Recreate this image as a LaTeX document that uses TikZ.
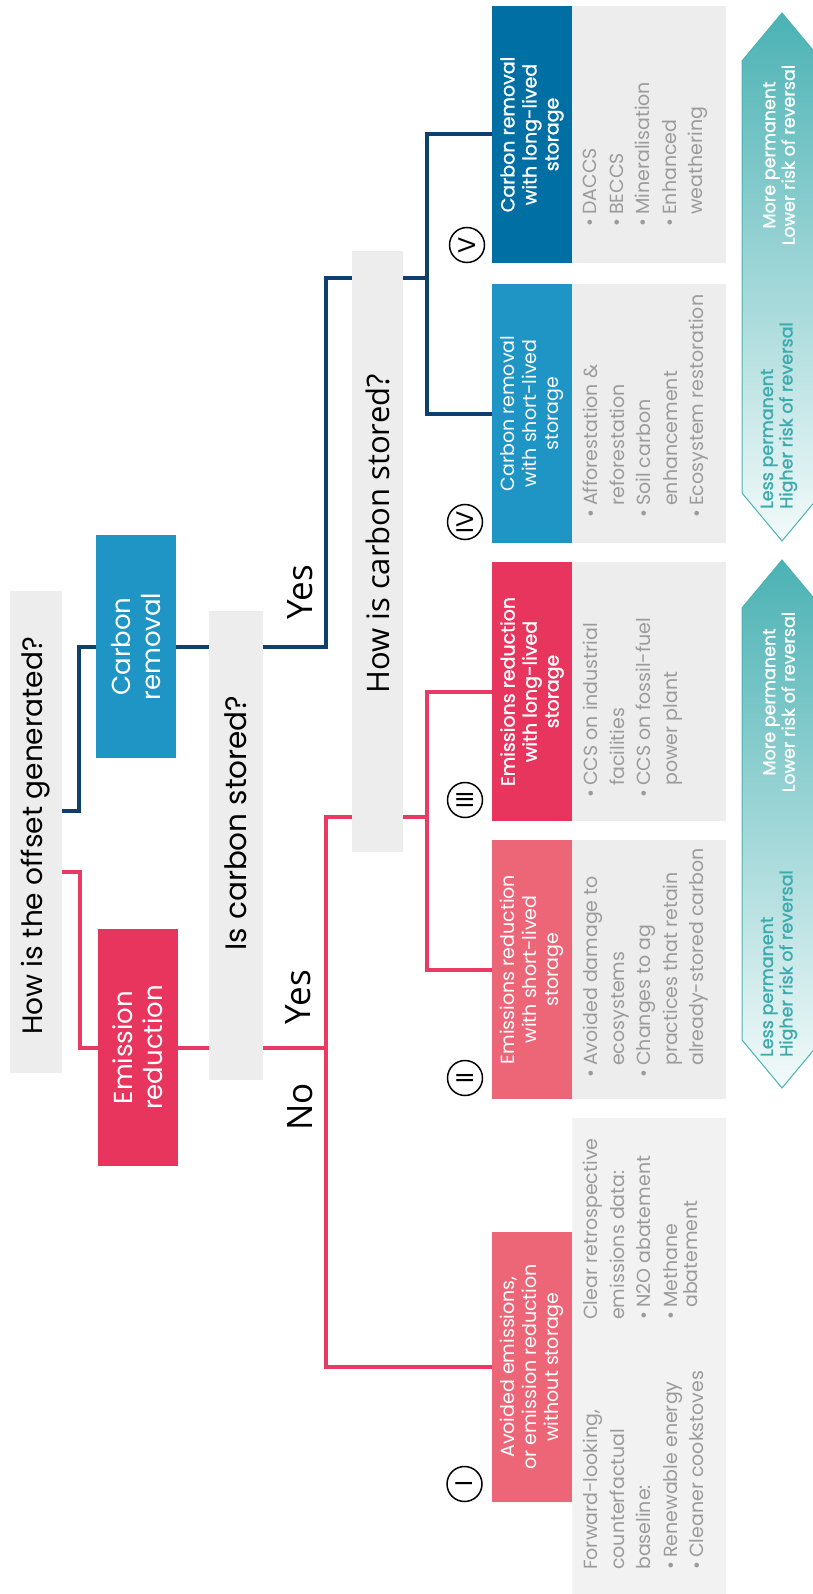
\documentclass[tikz,border=0pt]{standalone}
\usepackage{fontspec}
\setmainfont{Poppins}
\newfontfamily\osans{Open Sans}
\newfontfamily\popmed[FakeBold=1.3]{Poppins}
\usetikzlibrary{calc}
\pgfdeclarelayer{bg}
\pgfsetlayers{bg,main}
\definecolor{navyl}{HTML}{0E406E}
\definecolor{pinkl}{HTML}{E83A62}
\definecolor{crblue}{HTML}{1E95C5}
\definecolor{erpink}{HTML}{E8355E}
\definecolor{lpink}{HTML}{EC6678}
\definecolor{dblue}{HTML}{006FA3}
\definecolor{qgray}{HTML}{EDEDED}
\definecolor{lgray}{HTML}{F2F2F2}
\definecolor{gtxt}{HTML}{9B9B9B}
\definecolor{tealA}{HTML}{4BB2B4}
\definecolor{teallt}{HTML}{F3FAFA}
\definecolor{tealtxt}{HTML}{3DAAAD}
\newcommand{\bul}{\makebox[12pt][l]{•}}
\newcommand{\ind}{\hspace*{12pt}}
\begin{document}
\begin{tikzpicture}[x=1pt,y=-1pt,
  box/.style={rectangle, inner sep=0pt, outer sep=0pt},
  lbl/.style={rotate=90, inner sep=0pt, align=center},
  qtext/.style={lbl, text=black, font=\fontsize{28}{32}\selectfont},
  bigtext/.style={lbl, text=white, font=\fontsize{26}{30}\selectfont},
  boxtext/.style={lbl, text=white, font=\fontsize{19}{22}\selectfont},
  boldtext/.style={lbl, text=white, font=\popmed\fontsize{19}{22}\selectfont},
  yesno/.style={lbl, text=black, font=\osans\fontsize{35}{40}\selectfont},
  gtext/.style={rotate=90, anchor=north west, inner sep=0pt, align=left, text=gtxt, font=\fontsize{19}{26.5}\selectfont},
  num/.style={circle, draw=black, line width=1.5pt, minimum size=35pt, inner sep=0pt, rotate=90, font=\fontsize{24}{26}\selectfont},
  arrowtxt/.style={rotate=90, inner sep=0pt, font=\popmed\fontsize{17.5}{19.5}\selectfont},
  navylink/.style={draw=navyl, line width=4pt},
  pinklink/.style={draw=pinkl, line width=4pt}
]
\useasboundingbox (0,0) rectangle (812,1594);

% question boxes
\node[box, fill=qgray, minimum width=52pt, minimum height=482pt] (q1) at (36,832) {};
\node[qtext] (q1t) at (36,836) {How is the offset generated?};
\node[box, fill=qgray, minimum width=54pt, minimum height=469pt] (q2) at (236,845.5) {};
\node[qtext, font=\fontsize{29.5}{32}\selectfont] (q2t) at (236,823) {Is carbon stored?};
\node[box, fill=qgray, minimum width=51pt, minimum height=601pt] (q3) at (377.5,551.5) {};
\node[lbl, text=black, font=\osans\fontsize{31}{34}\selectfont] (q3t) at (377.5,534) {How is carbon stored?};

% first-level boxes
\node[box, fill=crblue, minimum width=80pt, minimum height=223pt] (cr) at (136,646.5) {};
\node[bigtext] (crt) at (136,646.5) {Carbon\\removal};
\node[box, fill=erpink, minimum width=80pt, minimum height=237pt] (er) at (138,1047.5) {};
\node[bigtext] (ert) at (138,1047.5) {Emission\\reduction};

% yes / no
\node[yesno] (yes1) at (300,592) {Yes};
\node[yesno] (yes2) at (298,997) {Yes};
\node[yesno] (no1) at (300,1107) {No};

% category boxes
\node[box, fill=lpink, minimum width=80pt, minimum height=270pt] (I) at (532,1367) {};
\node[boxtext] (It) at (532,1367) {Avoided emissions,\\or emission reduction\\without storage};
\node[box, fill=lpink, minimum width=80pt, minimum height=259pt] (II) at (532,969.5) {};
\node[boxtext] (IIt) at (532,969.5) {Emissions reduction\\with short-lived\\storage};
\node[box, fill=erpink, minimum width=80pt, minimum height=259pt] (III) at (532,691.5) {};
\node[boldtext] (IIIt) at (532,691.5) {Emissions reduction\\with long-lived\\storage};
\node[box, fill=crblue, minimum width=80pt, minimum height=259pt] (IV) at (532,413.5) {};
\node[boxtext] (IVt) at (532,413.5) {Carbon removal\\with short-lived\\storage};
\node[box, fill=dblue, minimum width=80pt, minimum height=257pt] (V) at (532,134.5) {};
\node[boldtext] (Vt) at (532,134.5) {Carbon removal\\with long-lived\\storage};

% grey description boxes
\node[box, fill=lgray, minimum width=154pt, minimum height=476pt] (g1) at (649,1356) {};
\node[box, fill=qgray, minimum width=154pt, minimum height=259pt] (g2) at (649,969.5) {};
\node[box, fill=qgray, minimum width=154pt, minimum height=259pt] (g3) at (649,691.5) {};
\node[box, fill=qgray, minimum width=154pt, minimum height=259pt] (g4) at (649,413.5) {};
\node[box, fill=qgray, minimum width=154pt, minimum height=257pt] (g5) at (649,134.5) {};

\node[gtext] (g1a) at (583,1570) {Forward-looking,\\counterfactual\\baseline:\\\bul Renewable energy\\\bul Cleaner cookstoves};
\node[gtext] (g1b) at (583,1320) {Clear retrospective\\emissions data:\\\bul N2O abatement\\\bul Methane\\[-6.5pt]\ind abatement};
\node[gtext] (g2t) at (583,1078) {\bul Avoided damage to\\\ind ecosystems\\\bul Changes to ag\\\ind practices that retain\\\ind already-stored carbon};
\node[gtext] (g3t) at (583,798) {\bul CCS on industrial\\\ind facilities\\\bul CCS on fossil-fuel\\\ind power plant};
\node[gtext] (g4t) at (583,518) {\bul Afforestation \&\\\ind reforestation\\\bul Soil carbon\\\ind enhancement\\\bul Ecosystem restoration};
\node[gtext] (g5t) at (583,227) {\bul DACCS\\\bul BECCS\\\bul Mineralisation\\\bul Enhanced\\\ind weathering};

% numerals
\node[num] (c1) at (464.5,1484) {I};
\node[num] (c2) at (465,1078) {II};
\node[num] (c3) at (465,800) {III};
\node[num] (c4) at (465,522) {IV};
\node[num] (c5) at (467,245) {V};

% permanence arrows
\shadedraw[top color=tealA, bottom color=teallt, draw=tealA, line width=1pt]
  (742,61) -- (782,13) -- (822,61) -- (822,493) -- (782,541) -- (742,493) -- cycle;
\shadedraw[top color=tealA, bottom color=teallt, draw=tealA, line width=1pt]
  (742,608) -- (782,560) -- (822,608) -- (822,1040) -- (782,1088) -- (742,1040) -- cycle;
\node[arrowtxt, text=white, align=center] (a1t) at (779,155) {More permanent\\Lower risk of reversal};
\node[arrowtxt, text=tealtxt, align=left, anchor=west] (a1b) at (779,509) {Less permanent\\Higher risk of reversal};
\node[arrowtxt, text=white, align=center] (a2t) at (779,702) {More permanent\\Lower risk of reversal};
\node[arrowtxt, text=tealtxt, align=left, anchor=west] (a2b) at (779,1057) {Less permanent\\Higher risk of reversal};

\coordinate (jx1) at (326,0);
\coordinate (jx2) at (427,0);

\begin{pgfonlayer}{bg}
\draw[navylink] ([yshift=21pt]q1.east) -- ++(17,0) |- (cr.west);
\draw[pinklink] ([yshift=-40pt]q1.east) -- ++(18,0) |- (er.west);
\draw[navylink] (cr.east) -- (cr.east -| jx1) |- ([yshift=273.5pt]q3.west);
\draw[navylink] ([yshift=273.5pt]q3.east) -- ([yshift=273.5pt]q3.east -| jx2);
\draw[navylink] (V.west) -| (jx2 |- IV.west) -- (IV.west);
\draw[pinklink] (er.east) -- (er.east -| jx1);
\draw[pinklink] ([yshift=-265.5pt]q3.west) -| (jx1 |- I.west) -- (I.west);
\draw[pinklink] ([yshift=-265.5pt]q3.east) -- ([yshift=-265.5pt]q3.east -| jx2);
\draw[pinklink] (III.west) -| (jx2 |- II.west) -- (II.west);
\end{pgfonlayer}
\end{tikzpicture}
\end{document}
